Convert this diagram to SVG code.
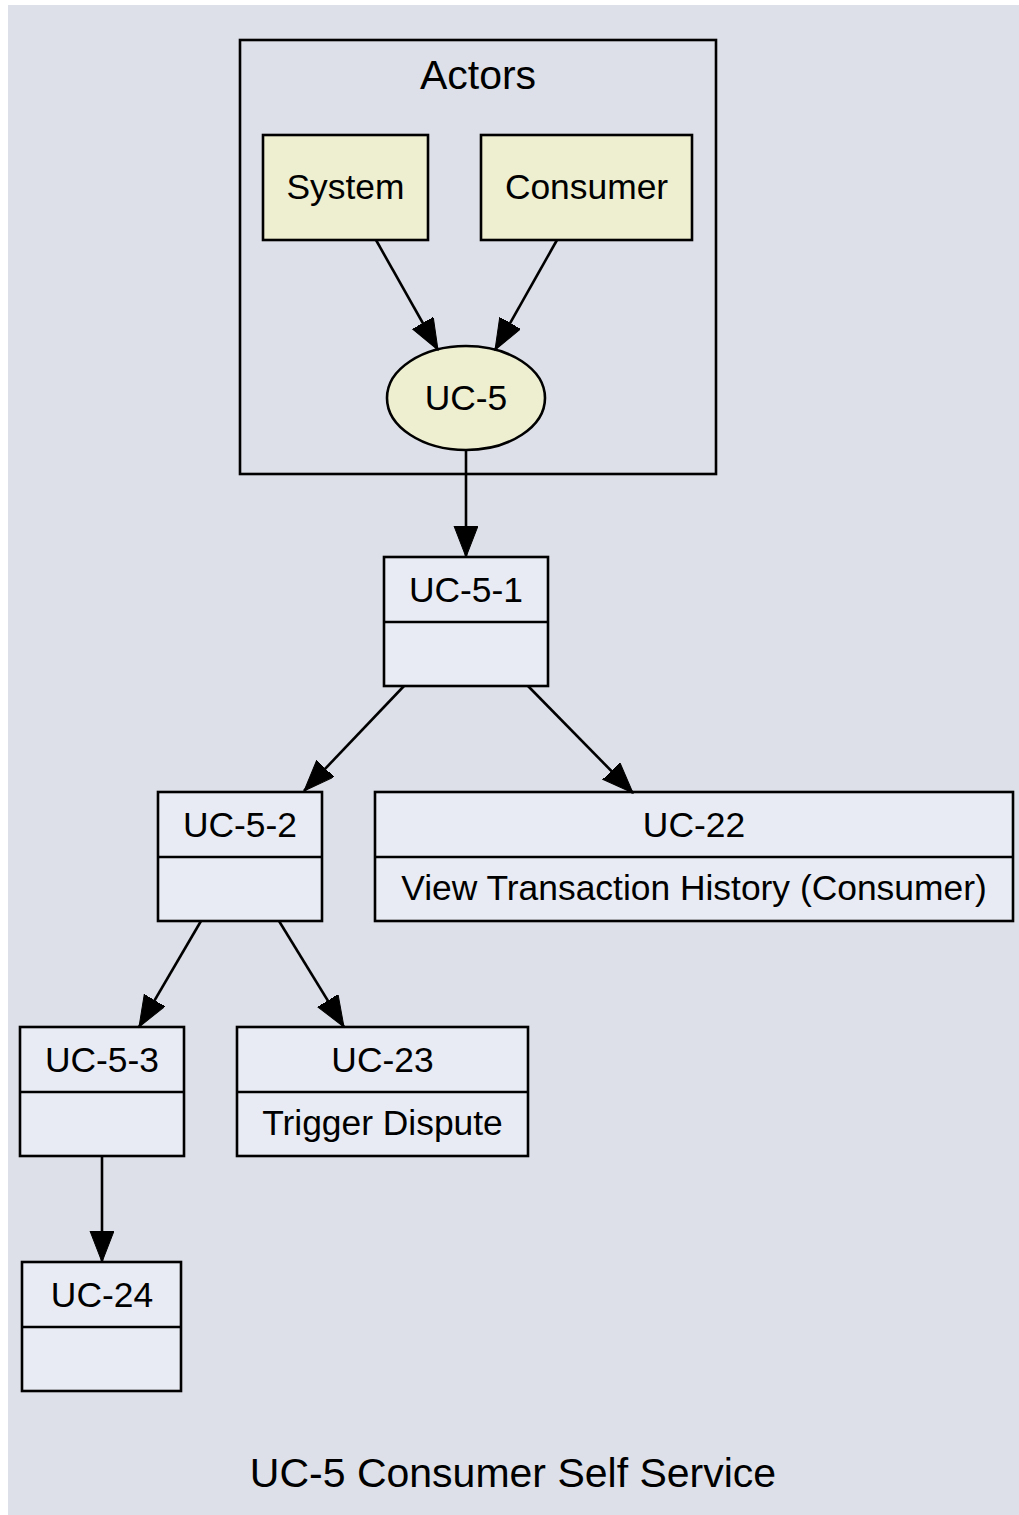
<svg xmlns="http://www.w3.org/2000/svg" width="1019" height="1515" viewBox="0 0 1019 1515">
<style>
text{font-family:"Liberation Sans",Arial,sans-serif;fill:#000;text-anchor:middle}
.n{font-size:35.4px}
.big{font-size:41px}
.box{fill:#e8ebf3;stroke:#000;stroke-width:2.6}
.act{fill:#eeeed0;stroke:#000;stroke-width:2.6}
.e{stroke:#000;stroke-width:2.6;fill:none;marker-end:url(#ah)}
</style>
<defs>
<marker id="ah" markerUnits="userSpaceOnUse" markerWidth="34" markerHeight="26" refX="31" refY="12" orient="auto">
<path d="M0,0 L31,12 L0,24 z" fill="#000" stroke="#000" stroke-width="1"/>
</marker>
</defs>
<rect x="8" y="5" width="1011" height="1510" fill="#dde0e8"/>
<g id="cluster_actors">
<rect x="240" y="40" width="476" height="434" fill="none" stroke="#000" stroke-width="2.6"/>
<text class="big" x="478" y="89">Actors</text>
</g>
<g id="system">
<rect class="act" x="263" y="135" width="165" height="105"/>
<text class="n" x="345.5" y="199">System</text>
</g>
<g id="consumer">
<rect class="act" x="481" y="135" width="211" height="105"/>
<text class="n" x="586.5" y="199">Consumer</text>
</g>
<g id="uc5">
<ellipse class="act" cx="466" cy="398" rx="79" ry="52"/>
<text class="n" x="466" y="410">UC-5</text>
</g>
<g id="uc5-1">
<rect class="box" x="384" y="557" width="164" height="129"/>
<line x1="384" y1="622" x2="548" y2="622" stroke="#000" stroke-width="2.6"/>
<text class="n" x="466" y="602">UC-5-1</text>
</g>
<g id="uc5-2">
<rect class="box" x="158" y="792" width="164" height="129"/>
<line x1="158" y1="857" x2="322" y2="857" stroke="#000" stroke-width="2.6"/>
<text class="n" x="240" y="837">UC-5-2</text>
</g>
<g id="uc22">
<rect class="box" x="375" y="792" width="638" height="129"/>
<line x1="375" y1="857" x2="1013" y2="857" stroke="#000" stroke-width="2.6"/>
<text class="n" x="694" y="837">UC-22</text>
<text class="n" x="694" y="900">View Transaction History (Consumer)</text>
</g>
<g id="uc5-3">
<rect class="box" x="20" y="1027" width="164" height="129"/>
<line x1="20" y1="1092" x2="184" y2="1092" stroke="#000" stroke-width="2.6"/>
<text class="n" x="102" y="1072">UC-5-3</text>
</g>
<g id="uc23">
<rect class="box" x="237" y="1027" width="291" height="129"/>
<line x1="237" y1="1092" x2="528" y2="1092" stroke="#000" stroke-width="2.6"/>
<text class="n" x="382.5" y="1135">Trigger Dispute</text>
<text class="n" x="382.5" y="1072">UC-23</text>
</g>
<g id="uc24">
<rect class="box" x="22" y="1262" width="159" height="129"/>
<line x1="22" y1="1327" x2="181" y2="1327" stroke="#000" stroke-width="2.6"/>
<text class="n" x="102" y="1307">UC-24</text>
</g>
<g id="edges">
<line class="e" x1="376" y1="240" x2="438" y2="350"/>
<line class="e" x1="557" y1="240" x2="495" y2="350"/>
<line class="e" x1="466" y1="451" x2="466" y2="557"/>
<line class="e" x1="404" y1="686" x2="304" y2="791"/>
<line class="e" x1="528" y1="686" x2="633" y2="793"/>
<line class="e" x1="201" y1="921" x2="139" y2="1027"/>
<line class="e" x1="279" y1="921" x2="344" y2="1027"/>
<line class="e" x1="102" y1="1156" x2="102" y2="1262"/>
</g>
<text class="big" x="513" y="1487">UC-5 Consumer Self Service</text>
</svg>
